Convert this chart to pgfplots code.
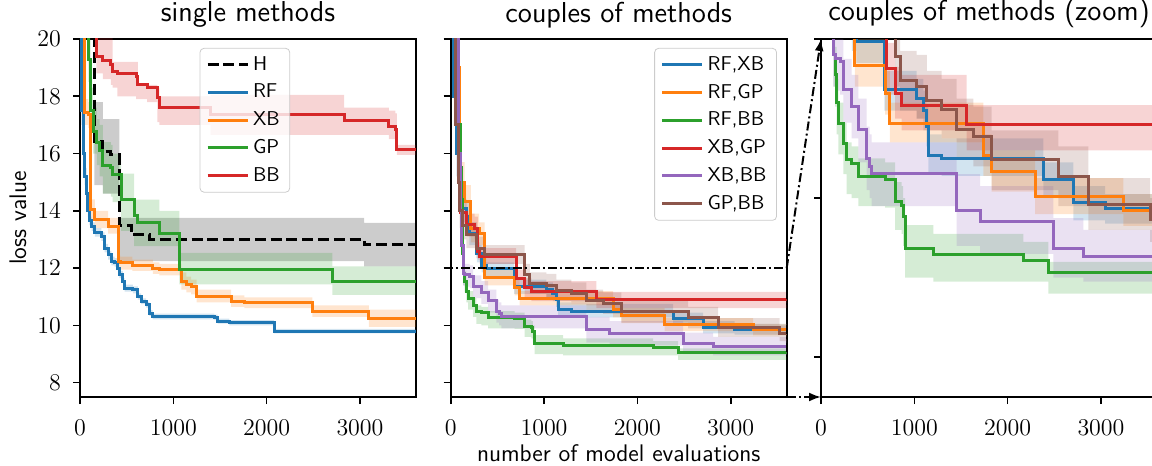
\documentclass[border=0pt]{standalone}
\usepackage{pgfplots}
\pgfplotsset{compat=1.18}
\usepackage{pgfplotstable}
\usepgfplotslibrary{fillbetween}
\usetikzlibrary{arrows.meta}

\definecolor{tabblue}{HTML}{1F77B4}
\definecolor{taborange}{HTML}{FF7F0E}
\definecolor{tabgreen}{HTML}{2CA02C}
\definecolor{tabred}{HTML}{D62728}
\definecolor{tabpurple}{HTML}{9467BD}
\definecolor{tabbrown}{HTML}{8C564B}

% ---------- single methods ----------
\pgfplotstableread{
x y lo hi
0 24 24 24
155 16.42 14.9 17.8
245 16.07 14.6 17.2
330 15.95 14.6 17.2
423 13.5 12.24 13.75
548 13.16 12.24 13.75
743 13.0 12.24 13.75
3043 12.82 12.06 13.58
3600 12.82 12.06 13.58
}\tH
\pgfplotstableread{
x y lo hi
0 24 24 24
15 17.5 17.0 18.0
35 16.0 15.6 16.4
50 15.2 14.9 15.5
70 14.6 14.3 14.9
85 14.0 13.8 14.2
100 13.65 13.5 13.8
125 13.45 13.3 13.6
160 13.25 13.1 13.4
230 13.1 12.95 13.25
265 12.7 12.55 12.85
300 12.46 12.3 12.6
335 12.23 12.1 12.4
370 12.18 12.05 12.35
405 12.0 11.88 12.12
423 11.77 11.65 11.9
459 11.53 11.4 11.65
477 11.3 11.18 11.42
566 11.24 11.12 11.36
619 11.01 10.9 11.12
655 10.84 10.74 10.94
708 10.72 10.62 10.82
743 10.43 10.33 10.53
779 10.31 10.21 10.41
1440 10.28 10.18 10.38
1475 10.15 10.06 10.24
1600 10.09 10.0 10.18
2080 9.8 9.72 9.88
3600 9.8 9.72 9.88
}\tRF
\pgfplotstableread{
x y lo hi
0 24 24 24
45 17.45 17.0 17.9
90 17.35 16.9 17.8
110 14.04 13.7 14.4
160 13.69 13.4 14.0
302 13.46 13.2 13.75
409 12.24 12.0 12.45
430 12.18 11.95 12.4
560 12.1 11.9 12.3
780 12.0 11.8 12.2
850 11.95 11.75 12.15
1085 11.55 11.25 11.85
1140 11.43 11.15 11.7
1190 11.35 11.08 11.6
1250 11.02 10.8 11.25
1620 10.85 10.65 11.05
1760 10.79 10.6 10.98
2490 10.5 10.3 10.7
3096 10.25 9.95 10.55
3600 10.25 9.95 10.55
}\tXB
\pgfplotstableread{
x y lo hi
0 24 24 24
90 19.3 18.5 20.5
115 17.5 16.8 18.3
140 16.77 16.0 17.6
180 16.4 15.6 17.2
210 16.1 15.2 17.0
245 15.6 14.6 16.4
330 15.5 14.5 16.3
350 15.28 14.3 16.0
440 14.4 13.3 15.3
580 13.85 12.77 14.39
620 13.6 12.77 14.39
850 13.22 12.77 14.0
1065 11.95 11.43 12.53
2705 11.53 11.07 12.06
3600 11.53 11.07 12.06
}\tGP
\pgfplotstableread{
x y lo hi
0 24 24 24
175 19.4 18.8 20.5
245 19.25 18.6 20.3
330 19.1 18.4 20.2
350 18.85 18.3 19.2
400 18.78 18.0 19.2
600 18.68 17.9 19.2
620 18.42 17.9 18.45
720 18.3 17.8 18.4
830 17.95 17.1 18.3
850 17.62 17.0 18.0
1400 17.35 16.65 18.05
2830 17.14 16.65 17.6
3310 16.95 16.5 17.5
3380 16.83 16.4 17.4
3395 16.13 15.95 16.3
3600 16.13 15.95 16.3
}\tBB

% ---------- couples of methods ----------
\pgfplotstableread{
x y lo hi
0 24 24 24
35 18 17 19
60 16 15.2 16.8
100 14.5 13.9 15.1
120 14.09 13.6 14.6
165 13.8 13.3 14.3
200 13.2 12.8 13.6
280 12.5 12.2 12.8
330 12.1 11.85 12.35
380 11.97 11.7 12.2
680 11.36 11.1 11.6
1025 11.25 11.0 11.5
1096 11.1 10.85 11.35
1130 10.9 10.65 11.15
1150 10.54 10.3 10.8
1293 10.5 10.28 10.75
2382 10.23 10.0 10.45
2704 9.94 9.72 10.15
3043 9.87 9.68 10.05
3600 9.87 9.68 10.05
}\tRFXB
\pgfplotstableread{
x y lo hi
0 24 24 24
70 19 18 20
90 17 16.2 17.8
110 15 14.3 15.7
150 14.33 13.8 14.9
215 13.4 12.9 13.9
305 13.2 12.8 13.6
364 11.67 11.4 12.0
686 11.32 11.05 11.6
739 10.94 10.7 11.2
1740 10.54 10.28 10.8
1829 10.33 10.08 10.6
2293 10.02 9.8 10.25
3239 9.85 9.65 10.05
3600 9.85 9.65 10.05
}\tRFGP
\pgfplotstableread{
x y lo hi
0 24 24 24
80 17 16.3 17.7
100 15.5 14.9 16.1
115 14.4 13.8 15.0
125 12.5 12.0 13.0
132 11.8 11.4 12.2
150 11.55 11.15 11.9
168 11.2 10.8 11.5
186 10.94 10.55 11.2
239 10.69 10.3 10.95
275 10.48 10.05 10.7
329 10.44 10.0 10.65
400 10.27 9.9 10.5
686 10.23 9.88 10.45
793 9.96 9.6 10.2
865 9.91 9.55 10.15
880 9.77 9.4 10.0
900 9.37 9.0 9.66
1204 9.29 8.95 9.55
2168 9.22 8.95 9.45
2436 9.06 8.8 9.2
3600 9.06 8.8 9.2
}\tRFBB
\pgfplotstableread{
x y lo hi
0 24 24 24
60 17 16.2 17.8
80 15 14.4 15.6
100 13.93 13.5 14.4
170 13.51 13.1 13.9
256 13.4 13.0 13.8
292 12.58 12.3 12.9
309 12.41 12.15 12.7
700 11.63 11.3 11.95
793 11.32 11.0 11.65
865 11.17 10.85 11.55
1561 10.92 10.6 11.17
3600 10.92 10.6 11.17
}\tXBGP
\pgfplotstableread{
x y lo hi
0 24 24 24
80 16 15.2 16.8
100 14 13.4 14.6
120 12.8 12.3 13.3
132 11.8 11.4 12.2
150 11.76 11.35 12.15
204 11.72 11.3 12.1
239 11.36 10.95 11.75
329 11.15 10.75 11.55
400 10.86 10.45 11.25
490 10.5 10.1 10.9
520 10.4 10.0 10.8
543 10.31 9.9 10.7
1454 9.85 9.4 10.3
1704 9.71 9.3 10.15
2489 9.37 9.0 9.75
2811 9.27 8.95 9.6
3600 9.27 8.95 9.6
}\tXBBB
\pgfplotstableread{
x y lo hi
0 24 24 24
50 17 16.2 17.8
80 15 14.3 15.7
96 14.0 13.4 14.6
130 13.5 13.0 14.0
167 13.16 12.7 13.6
274 12.7 12.35 13.1
363 12.46 12.15 12.8
793 11.78 11.4 12.15
847 11.48 11.1 11.85
1025 11.4 11.0 11.8
1133 11.23 10.85 11.6
1293 11.11 10.75 11.5
1454 10.86 10.5 11.25
1633 10.77 10.4 11.15
1829 10.48 10.1 10.85
2543 10.27 9.9 10.65
2864 9.92 9.6 10.25
3525 9.73 9.45 10.0
3600 9.73 9.45 10.0
}\tGPBB

\newcommand{\series}[4]{%
  \addplot[const plot, draw=none, forget plot, name path=#3h] table[x=x,y=hi] {#1};
  \addplot[const plot, draw=none, forget plot, name path=#3l] table[x=x,y=lo] {#1};
  \addplot[fill=#2, fill opacity=0.2, draw=none, forget plot] fill between[of=#3h and #3l];
  \addplot[const plot, color=#2, line width=1.5pt, #4] table[x=x,y=y] {#1};
}
\newcommand{\nolegend}[1]{}
\newcommand{\couples}[1]{%
  \series{\tRFXB}{tabblue}{a}{}#1{RF,XB}
  \series{\tRFGP}{taborange}{b}{}#1{RF,GP}
  \series{\tRFBB}{tabgreen}{c}{}#1{RF,BB}
  \series{\tXBGP}{tabred}{d}{}#1{XB,GP}
  \series{\tXBBB}{tabpurple}{e}{}#1{XB,BB}
  \series{\tGPBB}{tabbrown}{f}{}#1{GP,BB}
}

\pgfplotsset{
  panel/.style={
    scale only axis, width=168pt, height=179pt,
    xmin=0, xmax=3600, ymin=7.5, ymax=20,
    xtick={0,1000,2000,3000}, ytick={8,10,12,14,16,18,20},
    tick align=outside, tick pos=left,
    major tick length=3.5pt,
    axis line style={line width=0.8pt},
    every tick/.append style={line width=0.8pt, black},
    tick label style={font=\fontsize{12}{14}\selectfont},
    xticklabel style={yshift=-4.5pt},
    yticklabel style={xshift=-2.5pt},
    /pgf/number format/1000 sep={},
    scaled x ticks=false,
    title style={font=\sffamily\fontsize{14.4}{17}\selectfont, at={(0.5,1)}, anchor=south, inner sep=0pt, yshift=-0.5pt},
    label style={font=\sffamily\fontsize{12}{14}\selectfont},
    legend style={draw=black!20, fill=white, fill opacity=0.8, text opacity=1,
      rounded corners=2pt, font=\sffamily\fontsize{10}{12}\selectfont, cells={anchor=west},
      row sep=1.4pt},
    legend image code/.code={\draw[#1] (0pt,0pt) -- (20pt,0pt);},
    enlargelimits=false,
  },
}

\begin{document}
\begin{tikzpicture}
\begin{axis}[panel, name=left, at={(40pt,34.5pt)}, anchor=south west,
  title={single methods}, ylabel={loss value},
  ylabel style={at={(axis description cs:-0.185,0.5)}, anchor=center},
  legend style={at={(0.356,0.975)}, anchor=north west}]
  \series{\tH}{black}{h}{dash pattern=on 5.5pt off 2.4pt}\addlegendentry{H}
  \series{\tRF}{tabblue}{r}{}\addlegendentry{RF}
  \series{\tXB}{taborange}{x}{}\addlegendentry{XB}
  \series{\tGP}{tabgreen}{g}{}\addlegendentry{GP}
  \series{\tBB}{tabred}{bb}{}\addlegendentry{BB}
\end{axis}

\begin{axis}[panel, name=mid, at={(225.35pt,34.5pt)}, anchor=south west,
  title={couples of methods}, yticklabels={},
  xlabel={number of model evaluations},
  xlabel style={at={(axis description cs:0.5,-0.156)}, anchor=center},
  legend style={at={(0.971,0.975)}, anchor=north east}]
  \couples{\addlegendentry}
  \coordinate (r1) at (axis cs:3600,12);
  \coordinate (r0) at (axis cs:0,7.5);
\end{axis}

\begin{axis}[panel, name=zoom, at={(410.5pt,34.5pt)}, anchor=south west,
  ymin=7.5, ymax=12, ytick={8,10,12}, yticklabels={},
  title={couples of methods (zoom)}]
  \couples{\nolegend}
\end{axis}

\tikzset{dd/.style={black, line width=1pt, dash pattern=on 4.5pt off 1.6pt on 1pt off 1.6pt}}
\draw[dd] (r0) rectangle (r1);
\draw[dd, -{Latex[length=6pt,width=4.5pt]}] (r1) -- (zoom.north west);
\draw[dd, -{Latex[length=6pt,width=4.5pt]}] (mid.south east) -- (zoom.south west);

\pgfresetboundingbox
\useasboundingbox (0,0) rectangle (576pt,233pt);
\end{tikzpicture}
\end{document}
